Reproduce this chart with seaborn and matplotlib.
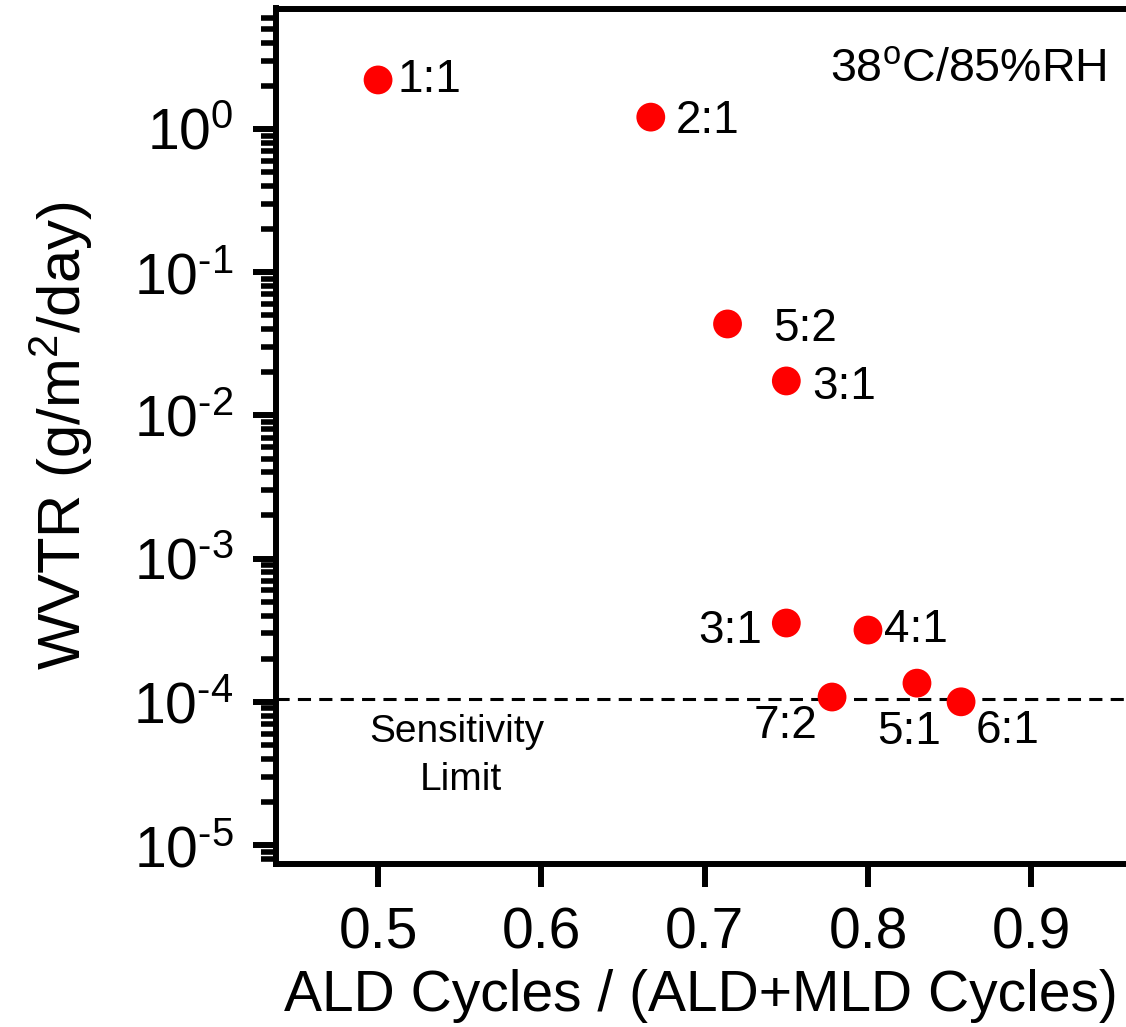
import matplotlib
matplotlib.use('Agg')
import matplotlib.pyplot as plt
import seaborn as sns
import pandas as pd
import numpy as np
from matplotlib.ticker import (LogLocator, NullFormatter, FixedLocator,
                               FuncFormatter)

# ---- data ----
ald_fraction = [0.5, 0.667, 0.714, 0.75, 0.75, 0.80, 0.778, 0.83, 0.857]
wvtr_values = [2.2, 1.21, 0.0435, 0.0174, 3.55e-4, 3.17e-4, 1.08e-4, 1.35e-4, 1.0e-4]
ratio_labels = ['1:1', '2:1', '5:2', '3:1', '3:1', '4:1', '7:2', '5:1', '6:1']
sensitivity_limit = 1.05e-4
x_tick_values = [0.5, 0.6, 0.7, 0.8, 0.9]
condition_text = r'38$^{\mathrm{o}}$C/85%RH'
x_title = 'ALD Cycles / (ALD+MLD Cycles)'
y_title = r'WVTR (g/m$^2$/day)'

# ---- label placement (pixel offsets, layout only) ----
label_offsets = [(19, -12, 'left'), (25, -16, 'left'), (46, -17, 'left'),
                 (26, -18, 'left'), (-24, -20, 'right'), (16, -12, 'left'),
                 (-15, -41, 'right'), (-40, -61, 'left'), (15, -41, 'left')]

sns.set_theme(style='ticks')
plt.rcParams['font.family'] = ['Liberation Sans', 'DejaVu Sans']
plt.rcParams['mathtext.fontset'] = 'custom'
plt.rcParams['mathtext.rm'] = 'Liberation Sans'
plt.rcParams['mathtext.it'] = 'Liberation Sans:italic'
plt.rcParams['mathtext.bf'] = 'Liberation Sans:bold'
plt.rcParams['mathtext.default'] = 'regular'
for key in ['text.color', 'axes.labelcolor', 'xtick.color', 'ytick.color',
            'xtick.labelcolor', 'ytick.labelcolor', 'axes.edgecolor']:
    plt.rcParams[key] = 'black'

W, H = 1126, 1027
fig = plt.figure(figsize=(W / 100, H / 100), dpi=100)
fig.patch.set_facecolor('white')
ax = fig.add_axes([276 / W, (H - 864) / H, (W - 276) / W, (864 - 8.5) / H])
ax.set_facecolor('white')

df = pd.DataFrame({'x': ald_fraction, 'y': wvtr_values, 'label': ratio_labels})
sns.scatterplot(data=df, x='x', y='y', s=430, color='#ff0000', edgecolor='none',
                linewidth=0, ax=ax, legend=False, zorder=3)

ax.set_yscale('log')
ax.set_xlim(0.4375, 0.958)
ax.set_ylim(7.37e-6, 6.94)

ax.axhline(sensitivity_limit, color='black', lw=2.2, dashes=(4.3, 2.7), zorder=2)

for (xv, yv, lab), (dx, dy, ha) in zip(zip(ald_fraction, wvtr_values, ratio_labels), label_offsets):
    ax.annotate(lab, (xv, yv), xytext=(dx, dy), textcoords='offset pixels',
                ha=ha, va='baseline', fontsize=33, color='black')

# spines
for side in ['left', 'bottom', 'top']:
    ax.spines[side].set_linewidth(4.3)
    ax.spines[side].set_color('black')
ax.spines['right'].set_visible(False)


def log_label(v, pos):
    e = int(round(np.log10(v)))
    if e < 0:
        return r'$10^{\text{-}%d}$' % (-e)
    return r'$10^{%d}$' % e


# ticks
ax.xaxis.set_major_locator(FixedLocator(x_tick_values))
ax.set_xticklabels([f'{v:.1f}' for v in x_tick_values])
ax.yaxis.set_major_locator(LogLocator(base=10, numticks=100))
ax.yaxis.set_minor_locator(LogLocator(base=10, subs=np.arange(2, 10), numticks=100))
ax.yaxis.set_major_formatter(FuncFormatter(log_label))
ax.yaxis.set_minor_formatter(NullFormatter())
ax.xaxis.set_minor_locator(FixedLocator([]))
ax.tick_params(top=False, right=False, which='both')
ax.tick_params(axis='both', which='major', direction='out', length=16.5, width=4.3,
               labelsize=41, color='black', labelcolor='black')
ax.tick_params(axis='x', which='major', pad=14)
ax.tick_params(axis='y', which='major', pad=14)
ax.tick_params(axis='y', which='minor', left=True, direction='out', length=10.5,
               width=4.0, color='black')

ax.set_xlabel(x_title, fontsize=41, labelpad=6, color='black')
ax.set_ylabel(y_title, fontsize=43, labelpad=28, color='black')

fig.text(1106 / W, 1 - 82 / H, condition_text, ha='right', va='baseline', fontsize=33.5,
         color='black')
fig.text(457 / W, 1 - 742 / H, 'Sensitivity', ha='center', va='baseline', fontsize=28,
         color='black')
fig.text(461 / W, 1 - 790 / H, 'Limit', ha='center', va='baseline', fontsize=28,
         color='black')

fig.savefig('out.png', dpi=100, facecolor='white')
